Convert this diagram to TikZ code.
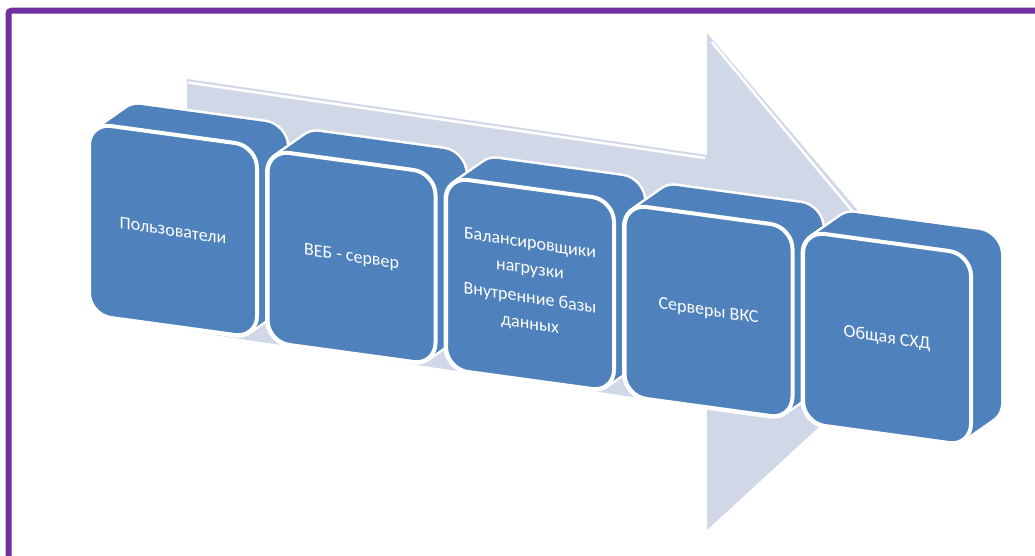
\documentclass[tikz,border=0pt]{standalone}
\usepackage{fontspec}
\setmainfont{Carlito}
\definecolor{boxblue}{HTML}{4F81BD}
\definecolor{arrowgray}{HTML}{D0D8E8}
\definecolor{framepurple}{HTML}{7030A0}
\tikzset{
  boxtext/.style={text=white, font=\fontsize{18}{26}\selectfont, align=center, yslant=-0.15, inner sep=0pt},
  facecorners/.style={rounded corners=22},
}
\newcommand\cubebox[4]{%
  \begin{scope}[shift={(#1,#2)}]
    \foreach \t in {0,0.1,0.2,0.3,0.4,0.5,0.6,0.7,0.8,0.9,1}
      \draw[white, line width=5, facecorners, shift={(30*\t,-21*\t)}] (0,0) -- (168,23) -- (168,215) -- (0,192) -- cycle;
    \foreach \t in {0,0.1,0.2,0.3,0.4,0.5,0.6,0.7,0.8,0.9,1}
      \fill[boxblue, facecorners, shift={(30*\t,-21*\t)}] (0,0) -- (168,23) -- (168,215) -- (0,192) -- cycle;
    \draw[white, line width=4, fill=boxblue, facecorners] (0,0) -- (168,23) -- (168,215) -- (0,192) -- cycle;
    \node[boxtext] (#3) at (84,107.5) {#4};
  \end{scope}}
\begin{document}
\begin{tikzpicture}[x=1pt,y=-1pt]
\useasboundingbox (0,0) rectangle (1035,556);
\begin{scope}
  \clip (0,0) rectangle (1035,556);
  \fill[white] (0,0) rectangle (1035,556);
  \draw[framepurple, line width=6, rounded corners=3] (8.5,10.7) rectangle (1100,700);
\end{scope}
% arrow
\fill[arrowgray] (187,79) -- (707,155) -- (707,33) -- (944,312) -- (707,530) -- (707,408) -- (187,331) -- cycle;
\draw[white, line width=2.5] (188,82.5) -- (705,158);
\draw[white, line width=2.5] (711.6,41.9) -- (928,302);
% boxes
\cubebox{89}{123}{b1}{Пользователи}
\cubebox{267.5}{150}{b2}{ВЕБ - сервер}
\cubebox{446}{177}{b3}{Балансировщики\\ нагрузки\\[3pt] Внутренние базы\\ данных}
\cubebox{624.5}{204}{b4}{Серверы ВКС}
\cubebox{803}{231}{b5}{Общая СХД}
\end{tikzpicture}
\end{document}
